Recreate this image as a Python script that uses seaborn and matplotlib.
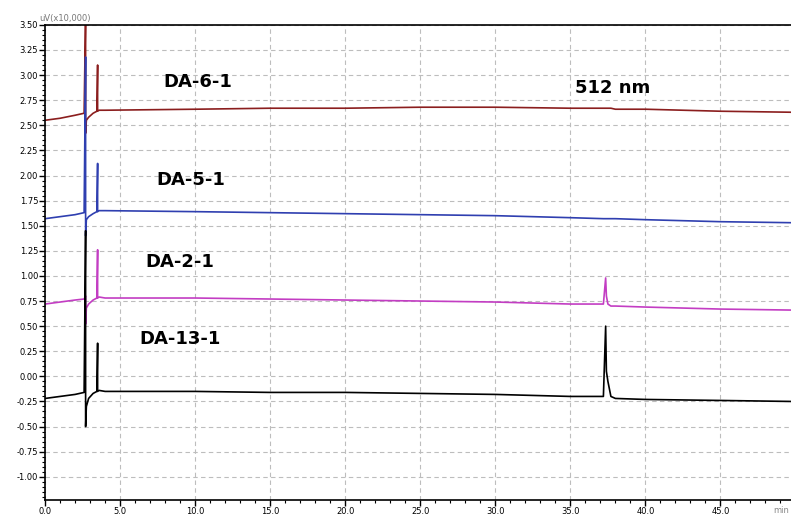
import matplotlib
matplotlib.use("Agg")
import matplotlib.pyplot as plt
from matplotlib.ticker import MultipleLocator, FormatStrFormatter
import seaborn as sns
import pandas as pd

# ---- data (time in min, signal in uV x10,000) ----
t_common = [0, 1, 2, 2.6, 2.7, 2.7, 2.75, 2.9, 3.2, 3.45, 3.5, 3.5, 3.6, 4.0,
            10, 15, 20, 25, 30, 35, 37.2, 37.35, 37.4, 37.5, 37.7, 38, 40, 45, 49.7]

da6_1 = [2.55, 2.57, 2.60, 2.62, 3.60, 2.42, 2.55, 2.58, 2.62, 2.64, 3.10, 2.64, 2.65, 2.65,
         2.66, 2.67, 2.67, 2.68, 2.68, 2.67, 2.67, 2.67, 2.67, 2.67, 2.67, 2.66, 2.66, 2.64, 2.63]
da5_1 = [1.57, 1.59, 1.61, 1.63, 3.18, 1.40, 1.56, 1.59, 1.62, 1.64, 2.12, 1.64, 1.65, 1.65,
         1.64, 1.63, 1.62, 1.61, 1.60, 1.58, 1.57, 1.57, 1.57, 1.57, 1.57, 1.57, 1.56, 1.54, 1.53]
da2_1 = [0.72, 0.74, 0.76, 0.77, 0.80, 0.52, 0.68, 0.72, 0.76, 0.78, 1.26, 0.78, 0.79, 0.78,
         0.78, 0.77, 0.76, 0.75, 0.74, 0.72, 0.72, 0.98, 0.80, 0.72, 0.70, 0.70, 0.69, 0.67, 0.66]
da13_1 = [-0.22, -0.20, -0.18, -0.16, 1.45, -0.50, -0.30, -0.22, -0.17, -0.15, 0.33, -0.15, -0.14, -0.15,
          -0.15, -0.16, -0.16, -0.17, -0.18, -0.20, -0.20, 0.50, 0.05, -0.05, -0.20, -0.22, -0.23, -0.24, -0.25]

series_names = ["DA-6-1", "DA-5-1", "DA-2-1", "DA-13-1"]
series_values = [da6_1, da5_1, da2_1, da13_1]
series_colors = ["#8B1E1E", "#2F3FB0", "#C33DC3", "#000000"]
label_pos = [(10.2, 2.93), (9.7, 1.96), (9.0, 1.14), (9.0, 0.37)]

rows = []
for name, vals in zip(series_names, series_values):
    for i, (x, y) in enumerate(zip(t_common, vals)):
        rows.append({"series": name, "order": i, "time": x, "signal": y})
df = pd.DataFrame(rows)

sns.set_style("white")
fig = plt.figure(figsize=(7.91, 5.18), dpi=100)
ax = fig.add_axes([0.057, 0.035, 0.943, 0.917])

sns.lineplot(data=df, x="time", y="signal", hue="series", hue_order=series_names,
             palette=dict(zip(series_names, series_colors)), estimator=None, sort=False,
             units="series", linewidth=1.2, legend=False, ax=ax)

ax.set_xlim(0, 49.7)
ax.set_ylim(-1.23, 3.5)
ax.xaxis.set_major_locator(MultipleLocator(5))
ax.xaxis.set_minor_locator(MultipleLocator(1))
ax.yaxis.set_major_locator(MultipleLocator(0.25))
ax.yaxis.set_minor_locator(MultipleLocator(0.05))
ax.xaxis.set_major_formatter(FormatStrFormatter("%.1f"))
ax.yaxis.set_major_formatter(FormatStrFormatter("%.2f"))
ax.tick_params(axis="both", which="both", bottom=True, left=True, top=False, right=False,
               colors="black")
ax.tick_params(axis="both", which="major", direction="out", length=4, width=1, labelsize=6, pad=1,
               labelcolor="black")
ax.tick_params(axis="both", which="minor", direction="out", length=2.5, width=0.8)
ax.grid(True, which="major", color="#bdbdbd", linestyle=(0, (4, 3)), linewidth=0.8)
ax.set_axisbelow(True)
for s in ax.spines.values():
    s.set_color("black")
    s.set_linewidth(1.2)
ax.spines["right"].set_visible(False)
ax.set_xlabel("")
ax.set_ylabel("")

for name, (x, y) in zip(series_names, label_pos):
    ax.text(x, y, name, fontsize=13, fontweight="bold", ha="center", va="center", color="black")
ax.text(37.8, 2.87, "512 nm", fontsize=13, fontweight="bold", ha="center", va="center", color="black")

fig.text(0.050, 0.965, "uV(x10,000)", fontsize=6, color="#777777", ha="left", va="center")
fig.text(0.978, 0.015, "min", fontsize=6, color="#888888", ha="left", va="center")

fig.savefig("out.png", dpi=100)
